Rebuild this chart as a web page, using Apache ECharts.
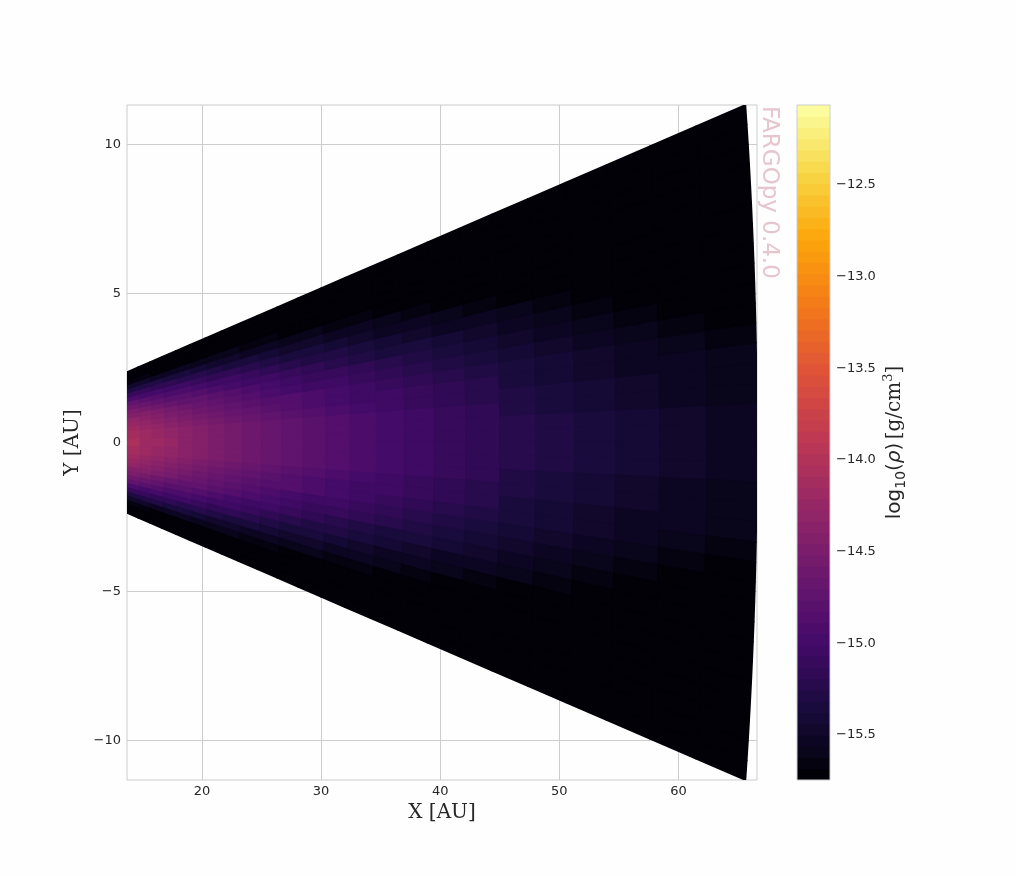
<!DOCTYPE html>
<html>
<head>
<meta charset="utf-8">
<script src="https://cdn.jsdelivr.net/npm/echarts@6/dist/echarts.min.js"></script>
<style>
html,body{margin:0;padding:0;background:#fdfefd;}
#chart{width:1016px;height:876px;}
</style>
</head>
<body>
<div id="chart"></div>
<script>
// ---------------- data (read / estimated from the reference picture) ----------------
// radial cell edges [AU]
const radiusEdgesAU = [13.72, 14.84, 15.84, 16.91, 18.05, 19.27, 20.57, 21.95, 23.43, 25.02, 26.70, 28.50, 30.43,
  32.48, 34.67, 37.01, 39.51, 42.17, 45.02, 48.05, 51.30, 54.76, 58.45, 62.39, 66.60];
// angular cell edges from the midplane [rad] (the disk is mirror-symmetric about the midplane)
const thetaEdgesRad = [0, 0.01006, 0.02012, 0.03018, 0.04024, 0.0503, 0.06035, 0.07041, 0.08047, 0.09053,
  0.10059, 0.11065, 0.12071, 0.13077, 0.14083, 0.15088, 0.16094, 0.171];
// log10(rho) per cell: one row per angular ring (midplane first), one column per radial ring
const logRho = [
  [-14.08,-14.15,-14.21,-14.27,-14.34,-14.40,-14.47,-14.53,-14.59,-14.66,-14.72,-14.79,-14.85,-14.91,-14.98,-15.04,-15.10,-15.17,-15.23,-15.30,-15.36,-15.42,-15.49,-15.55],
  [-14.10,-14.16,-14.23,-14.29,-14.35,-14.42,-14.48,-14.54,-14.61,-14.67,-14.73,-14.80,-14.86,-14.92,-14.99,-15.05,-15.11,-15.18,-15.24,-15.30,-15.37,-15.43,-15.49,-15.56],
  [-14.13,-14.19,-14.25,-14.32,-14.38,-14.44,-14.50,-14.57,-14.63,-14.69,-14.75,-14.82,-14.88,-14.94,-15.00,-15.07,-15.13,-15.19,-15.26,-15.32,-15.38,-15.44,-15.51,-15.57],
  [-14.17,-14.24,-14.30,-14.36,-14.42,-14.48,-14.54,-14.60,-14.66,-14.73,-14.79,-14.85,-14.91,-14.97,-15.03,-15.10,-15.16,-15.22,-15.28,-15.34,-15.41,-15.47,-15.53,-15.59],
  [-14.24,-14.29,-14.35,-14.41,-14.47,-14.53,-14.59,-14.65,-14.71,-14.77,-14.83,-14.89,-14.95,-15.01,-15.07,-15.13,-15.19,-15.25,-15.32,-15.38,-15.44,-15.50,-15.56,-15.62],
  [-14.31,-14.37,-14.42,-14.48,-14.54,-14.60,-14.65,-14.71,-14.77,-14.83,-14.88,-14.94,-15.00,-15.06,-15.12,-15.18,-15.24,-15.30,-15.36,-15.42,-15.48,-15.54,-15.60,-15.66],
  [-14.40,-14.45,-14.51,-14.56,-14.62,-14.67,-14.73,-14.78,-14.84,-14.89,-14.95,-15.01,-15.06,-15.12,-15.18,-15.23,-15.29,-15.35,-15.41,-15.47,-15.52,-15.58,-15.64,-15.70],
  [-14.51,-14.56,-14.61,-14.66,-14.71,-14.76,-14.81,-14.87,-14.92,-14.97,-15.03,-15.08,-15.13,-15.19,-15.24,-15.30,-15.35,-15.41,-15.47,-15.52,-15.58,-15.64,-15.69,-15.75],
  [-14.63,-14.67,-14.72,-14.77,-14.82,-14.86,-14.91,-14.96,-15.01,-15.06,-15.11,-15.17,-15.22,-15.27,-15.32,-15.37,-15.43,-15.48,-15.53,-15.59,-15.64,-15.70,-15.75,-15.75],
  [-14.76,-14.81,-14.85,-14.89,-14.94,-14.98,-15.03,-15.07,-15.12,-15.16,-15.21,-15.26,-15.31,-15.36,-15.41,-15.46,-15.51,-15.56,-15.61,-15.66,-15.71,-15.75,-15.75,-15.75],
  [-14.91,-14.95,-14.99,-15.03,-15.07,-15.11,-15.15,-15.19,-15.23,-15.28,-15.32,-15.37,-15.41,-15.46,-15.50,-15.55,-15.60,-15.64,-15.69,-15.74,-15.75,-15.75,-15.75,-15.75],
  [-15.08,-15.11,-15.15,-15.18,-15.21,-15.25,-15.29,-15.32,-15.36,-15.40,-15.44,-15.48,-15.52,-15.56,-15.61,-15.65,-15.69,-15.74,-15.75,-15.75,-15.75,-15.75,-15.75,-15.75],
  [-15.26,-15.29,-15.31,-15.34,-15.37,-15.40,-15.44,-15.47,-15.50,-15.54,-15.57,-15.61,-15.64,-15.68,-15.72,-15.75,-15.75,-15.75,-15.75,-15.75,-15.75,-15.75,-15.75,-15.75],
  [-15.46,-15.48,-15.50,-15.52,-15.55,-15.57,-15.60,-15.62,-15.65,-15.68,-15.71,-15.75,-15.75,-15.75,-15.75,-15.75,-15.75,-15.75,-15.75,-15.75,-15.75,-15.75,-15.75,-15.75],
  [-15.67,-15.68,-15.70,-15.71,-15.73,-15.75,-15.75,-15.75,-15.75,-15.75,-15.75,-15.75,-15.75,-15.75,-15.75,-15.75,-15.75,-15.75,-15.75,-15.75,-15.75,-15.75,-15.75,-15.75],
  [-15.75,-15.75,-15.75,-15.75,-15.75,-15.75,-15.75,-15.75,-15.75,-15.75,-15.75,-15.75,-15.75,-15.75,-15.75,-15.75,-15.75,-15.75,-15.75,-15.75,-15.75,-15.75,-15.75,-15.75],
  [-15.75,-15.75,-15.75,-15.75,-15.75,-15.75,-15.75,-15.75,-15.75,-15.75,-15.75,-15.75,-15.75,-15.75,-15.75,-15.75,-15.75,-15.75,-15.75,-15.75,-15.75,-15.75,-15.75,-15.75]
];
const xTicks = [20, 30, 40, 50, 60];
const yTicks = [-10, -5, 0, 5, 10];
const cbTicks = [-15.5, -15.0, -14.5, -14.0, -13.5, -13.0, -12.5];
const cbRange = [-15.745, -12.064];
const nLevels = 60;

// ---------------- colour scale (inferno, banded like contourf) ----------------
const infernoStops = ['#000004','#160b39','#420a68','#6a176e','#932667','#bc3754','#dd513a','#f37819','#fca50a','#f6d746','#fcffa4'];
function hexRgb(h){ return [parseInt(h.substr(1,2),16), parseInt(h.substr(3,2),16), parseInt(h.substr(5,2),16)]; }
function inferno(t){
  const x = Math.max(0, Math.min(1, t)) * 10;
  const i = Math.min(9, Math.floor(x));
  const f = x - i;
  const a = hexRgb(infernoStops[i]), b = hexRgb(infernoStops[i + 1]);
  return 'rgb(' + a.map((v, k) => Math.round(v + (b[k] - v) * f)).join(',') + ')';
}
const levels = [];
for (let i = 0; i <= nLevels; i++) levels.push(cbRange[0] + (cbRange[1] - cbRange[0]) * i / nLevels);
const pieces = [];
for (let i = 0; i < nLevels; i++) {
  const p = { color: inferno((i + 0.5) / nLevels) };
  if (i > 0) p.gte = levels[i];
  if (i < nLevels - 1) p.lt = levels[i + 1];
  pieces.push(p);
}

// ---------------- series data ----------------
const cellData = [];
for (let k = 0; k < logRho.length; k++) {
  for (let j = 0; j < logRho[k].length; j++) {
    cellData.push([radiusEdgesAU[j], radiusEdgesAU[j + 1], thetaEdgesRad[k], thetaEdgesRad[k + 1], logRho[k][j]]);
  }
}
const barData = [];
for (let i = 0; i < nLevels; i++) barData.push([levels[i], levels[i + 1], (levels[i] + levels[i + 1]) / 2]);

function renderCell(params, api) {
  const r0 = api.value(0), r1 = api.value(1), t0 = api.value(2), t1 = api.value(3);
  const color = api.visual('color');
  const corners = [[r0, t0], [r1, t0], [r1, t1], [r0, t1]];
  const poly = s => ({
    type: 'polygon',
    shape: { points: corners.map(c => api.coord([c[0] * Math.cos(c[1]), s * c[0] * Math.sin(c[1])])) },
    style: { fill: color, stroke: color, lineWidth: 1.6, lineJoin: 'round', opacity: 1 }
  });
  return { type: 'group', children: [poly(1), poly(-1)] };
}
function renderBand(params, api) {
  const p0 = api.coord([0, api.value(1)]);
  const p1 = api.coord([1, api.value(0)]);
  const color = api.visual('color');
  return { type: 'rect', shape: { x: p0[0], y: p0[1] - 0.5, width: p1[0] - p0[0], height: p1[1] - p0[1] + 1 },
           style: { fill: color, opacity: 1 } };
}
const minus = v => String(v).replace('-', '\u2212');
const tickFont = { fontFamily: 'DejaVu Sans', fontSize: 13, color: '#262626' };

const chart = echarts.init(document.getElementById('chart'), null, { renderer: 'canvas' });
chart.setOption({
  animation: false,
  backgroundColor: '#fdfefd',
  grid: [
    { left: 127, top: 105, width: 630, height: 675, show: true, borderColor: '#cccccc', borderWidth: 1, backgroundColor: 'transparent' },
    { left: 797, top: 105, width: 33, height: 675, show: false }
  ],
  xAxis: [
    { type: 'value', gridIndex: 0, min: 13.7, max: 66.6,
      axisLine: { show: false },
      axisTick: { show: false, customValues: xTicks },
      axisLabel: Object.assign({ customValues: xTicks, margin: 5, formatter: minus }, tickFont),
      splitLine: { show: true, lineStyle: { color: '#cccccc', width: 1 } },
      name: 'X [AU]', nameLocation: 'middle', nameGap: 19,
      nameTextStyle: { fontFamily: 'DejaVu Serif', fontSize: 20, color: '#262626' } },
    { type: 'value', gridIndex: 1, min: 0, max: 1, show: false }
  ],
  yAxis: [
    { type: 'value', gridIndex: 0, min: -11.33, max: 11.33,
      axisLine: { show: false },
      axisTick: { show: false, customValues: yTicks },
      axisLabel: Object.assign({ customValues: yTicks, margin: 6, formatter: minus }, tickFont),
      splitLine: { show: true, lineStyle: { color: '#cccccc', width: 1 } },
      name: 'Y [AU]', nameLocation: 'middle', nameGap: 36, nameRotate: 90,
      nameTextStyle: { fontFamily: 'DejaVu Serif', fontSize: 20, color: '#262626' } },
    { type: 'value', gridIndex: 1, position: 'right', min: cbRange[0], max: cbRange[1],
      axisLine: { show: false },
      axisTick: { show: true, customValues: cbTicks, length: 4, lineStyle: { color: '#262626', width: 1 } },
      axisLabel: Object.assign({ customValues: cbTicks, margin: 6, formatter: v => minus(v.toFixed(1)) }, tickFont),
      splitLine: { show: false },
      name: '{a|log}{s|10}{a|(}{i|\u03c1}{a|)} {b|[g/cm}{p|3}{b|]}',
      nameLocation: 'middle', nameGap: 52, nameRotate: 90,
      nameTextStyle: { rich: {
        a: { fontFamily: 'DejaVu Sans', fontSize: 20, color: '#262626', lineHeight: 26 },
        s: { fontFamily: 'DejaVu Sans', fontSize: 14, color: '#262626', lineHeight: 26, verticalAlign: 'bottom' },
        i: { fontFamily: 'DejaVu Sans', fontStyle: 'italic', fontSize: 20, color: '#262626', lineHeight: 26 },
        b: { fontFamily: 'DejaVu Serif', fontSize: 20, color: '#262626', lineHeight: 26 },
        p: { fontFamily: 'DejaVu Serif', fontSize: 13, color: '#262626', lineHeight: 26, verticalAlign: 'top' }
      } } }
  ],
  visualMap: [
    { type: 'piecewise', show: false, seriesIndex: 0, dimension: 4, pieces: pieces },
    { type: 'piecewise', show: false, seriesIndex: 1, dimension: 2, pieces: pieces }
  ],
  graphic: [
    { type: 'rect', shape: { x: 797, y: 105, width: 33, height: 675 }, z: 100, silent: true,
      style: { fill: 'none', stroke: '#cccccc', lineWidth: 1 } },
    { type: 'text', x: 769, y: 106, rotation: -Math.PI / 2, z: 100,
      style: { text: 'FARGOpy 0.4.0', fontFamily: 'DejaVu Sans', fontSize: 23, fill: '#e6c5cf',
               textAlign: 'left', textVerticalAlign: 'middle' } }
  ],
  series: [
    { type: 'custom', xAxisIndex: 0, yAxisIndex: 0, clip: true, renderItem: renderCell, data: cellData, silent: true },
    { type: 'custom', xAxisIndex: 1, yAxisIndex: 1, clip: true, renderItem: renderBand, data: barData, silent: true }
  ]
});
</script>
</body>
</html>
